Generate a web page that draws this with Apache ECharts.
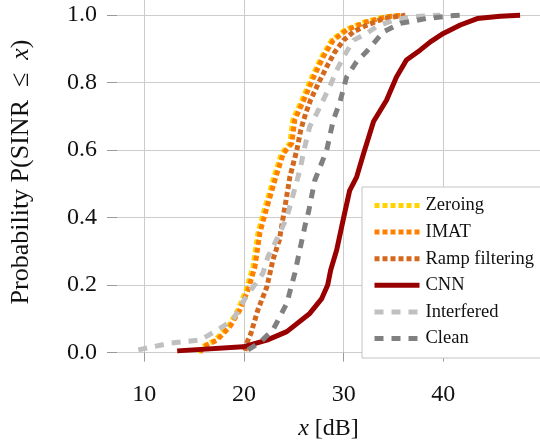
<!DOCTYPE html>
<html>
<head>
<meta charset="utf-8">
<script src="https://cdn.jsdelivr.net/npm/echarts@6/dist/echarts.min.js"></script>
<style>
  html, body { margin: 0; padding: 0; background: #fff; }
  #chart { width: 540px; height: 442px; }
</style>
</head>
<body>
<div id="chart"></div>
<script>
// tick labels
const xTicks = [10, 20, 30, 40];
const yTicks = [0, 0.2, 0.4, 0.6, 0.8, 1.0];

// CDF curves: [SINR dB, probability]
const zeroing = [[15.4, 0], [15.8, 0.017], [17.1, 0.037], [18.4, 0.077], [19.4, 0.127], [20.2, 0.185],
  [20.9, 0.254], [21.4, 0.355], [22.1, 0.43], [23.1, 0.53], [23.75, 0.59], [24.6, 0.62], [24.9, 0.69],
  [25.8, 0.748], [26.8, 0.817], [27.8, 0.877], [28.8, 0.926], [30.1, 0.956], [32.1, 0.98], [34.1, 0.995],
  [35.8, 1.0]];
const imat = [[15.6, 0], [15.9, 0.017], [17.3, 0.037], [18.6, 0.077], [19.6, 0.127], [20.4, 0.185],
  [21.1, 0.254], [21.6, 0.355], [22.3, 0.43], [23.3, 0.53], [23.95, 0.59], [24.8, 0.62], [25.1, 0.69],
  [26.0, 0.748], [27.0, 0.817], [27.96, 0.877], [28.97, 0.926], [30.3, 0.956], [32.3, 0.98], [34.3, 0.995],
  [36.0, 1.0]];
const ramp = [[20.1, 0.005], [20.3, 0.03], [20.7, 0.057], [21.4, 0.127], [22.3, 0.195], [22.9, 0.274],
  [23.55, 0.334], [24.1, 0.43], [24.6, 0.52], [25.3, 0.60], [25.7, 0.66], [26.2, 0.71], [26.7, 0.75],
  [27.5, 0.80], [28.3, 0.847], [29.1, 0.89], [30.0, 0.926], [31.0, 0.951], [32.3, 0.97], [34.0, 0.99],
  [36.2, 1.0]];
const cnn = [[13.3, 0.005], [19.9, 0.017], [22.3, 0.037], [24.3, 0.062], [26.6, 0.116], [27.8, 0.16],
  [28.4, 0.2], [28.7, 0.245], [29.3, 0.304], [30.0, 0.40], [30.6, 0.48], [31.3, 0.52], [32.0, 0.59],
  [33.0, 0.685], [34.3, 0.748], [35.3, 0.817], [36.3, 0.867], [37.7, 0.897], [38.7, 0.921], [40.0, 0.946],
  [41.7, 0.971], [43.4, 0.99], [45.7, 0.997], [47.7, 1.0]];
const interfered = [[9.4, 0.008], [12.6, 0.028], [15.6, 0.037], [17.3, 0.066], [18.9, 0.097], [20.1, 0.16],
  [21.9, 0.235], [22.4, 0.284], [23.1, 0.324], [24.3, 0.40], [24.95, 0.47], [25.6, 0.54], [26.1, 0.61],
  [26.6, 0.67], [27.3, 0.709], [28.6, 0.788], [29.3, 0.837], [30.0, 0.877], [31.0, 0.926], [32.3, 0.946],
  [33.3, 0.966], [35.0, 0.985], [36.7, 0.995], [39.7, 1.0]];
const clean = [[20.4, 0.008], [21.6, 0.03], [22.9, 0.067], [23.6, 0.106], [24.3, 0.146], [25.1, 0.235],
  [25.6, 0.304], [26.1, 0.373], [26.5, 0.42], [27.1, 0.51], [28.3, 0.60], [28.97, 0.69], [29.6, 0.74],
  [30.3, 0.817], [31.3, 0.862], [32.3, 0.892], [34.0, 0.951], [35.7, 0.976], [38.3, 0.99], [40.7, 0.998],
  [42.0, 1.0]];

const serif = 'Liberation Serif';

let chartDom = document.getElementById('chart');
let myChart = echarts.init(chartDom);

function line(name, data, color, type, width) {
  return {
    name: name,
    type: 'line',
    data: data,
    symbol: 'none',
    showSymbol: false,
    animation: false,
    itemStyle: { color: color },
    lineStyle: { color: color, width: width, type: type, cap: 'butt' }
  };
}

let option = {
  backgroundColor: '#fff',
  animation: false,
  grid: {
    left: 117,
    right: 0,
    top: 0,
    bottom: 81,
    containLabel: false,
    outerBoundsMode: 'none'
  },
  xAxis: {
    type: 'value',
    min: 7.26,
    max: 49.7,
    offset: 8,
    name: '{i|x} [dB]',
    nameLocation: 'middle',
    nameGap: 48,
    nameTextStyle: {
      fontFamily: serif, fontSize: 24, color: '#111',
      rich: {
        i: { fontFamily: serif, fontSize: 24, fontStyle: 'italic', color: '#111' }
      }
    },
    axisLine: { show: false },
    axisTick: { show: true, length: 9, customValues: xTicks, lineStyle: { color: '#999' } },
    axisLabel: {
      customValues: xTicks,
      margin: 14,
      fontFamily: serif, fontSize: 24, color: '#111'
    },
    splitLine: { show: true, lineStyle: { color: '#cccccc', width: 1 } }
  },
  yAxis: {
    type: 'value',
    min: -0.025,
    max: 1.045,
    name: '{a|Probability P(SINR\u2002≤\u2002}{i|x}{a|)}',
    nameLocation: 'middle',
    nameRotate: 90,
    nameGap: 83,
    nameTextStyle: {
      padding: [0, 0, 0, 17],
      rich: {
        a: { fontFamily: serif, fontSize: 26, color: '#111' },
        i: { fontFamily: serif, fontSize: 26, fontStyle: 'italic', color: '#111' }
      }
    },
    axisLine: { show: false },
    axisTick: { show: true, length: 10, customValues: yTicks, lineStyle: { color: '#999' } },
    axisLabel: {
      customValues: yTicks,
      margin: 20,
      formatter: (v) => v.toFixed(1),
      fontFamily: serif, fontSize: 24, color: '#111'
    },
    splitLine: { show: true, lineStyle: { color: '#cccccc', width: 1 } }
  },
  legend: {
    orient: 'vertical',
    left: 362,
    top: 187,
    padding: [9, 30, 10, 10],
    itemWidth: 45,
    itemHeight: 14,
    itemGap: 7.6,
    backgroundColor: '#fff',
    borderColor: '#c4c4c4',
    borderWidth: 1,
    borderRadius: 0,
    itemStyle: { opacity: 0 },
    lineStyle: { width: 5, opacity: 1 },
    textStyle: { fontFamily: serif, fontSize: 18.5, color: '#111', lineHeight: 16, padding: [0, 0, 0, 1] },
    data: ['Zeroing', 'IMAT', 'Ramp filtering', 'CNN', 'Interfered', 'Clean']
  },
  series: [
    line('Zeroing', zeroing, '#ffd400', [5, 3], 5),
    line('IMAT', imat, '#ff8000', [5, 3], 5),
    line('Ramp filtering', ramp, '#d2691e', [5, 3], 5),
    line('CNN', cnn, '#990000', 'solid', 5),
    line('Interfered', interfered, '#c0c0c0', [9, 8], 5),
    line('Clean', clean, '#808080', [9, 8], 5)
  ]
};

option && myChart.setOption(option);
</script>
</body>
</html>
